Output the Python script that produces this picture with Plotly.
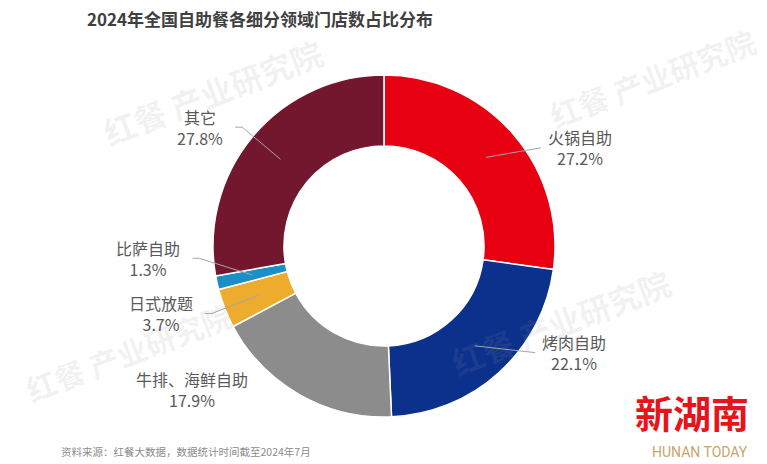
import math
import plotly.graph_objects as go

# ---------------- data ----------------
categories = ["火锅自助", "烤肉自助", "牛排、海鲜自助", "日式放题", "比萨自助", "其它"]
shares = [27.2, 22.1, 17.9, 3.7, 1.3, 27.8]
colors = ["#E60012", "#0B318C", "#8C8C8C", "#EDAC2D", "#1A8EC6", "#73172F"]

title_text = "2024年全国自助餐各细分领域门店数占比分布"
source_text = "资料来源：红餐大数据，数据统计时间截至2024年7月"

# ---------------- layout parameters ----------------
W, H = 767, 464
CX, CY, R = 384, 246, 171          # pie centre / outer radius in px
HOLE = 0.585
ANCHOR_R = 135                      # where leader lines start (mid ring)
ELBOW_R = 185                       # leader line elbow radius
label_shift_deg = [9, -12.5, 9.5, 0, 8.6, 0]    # label placement nudges
show_leader = [True, True, False, True, True, True]

FONT = "Noto Sans CJK SC, Noto Sans, sans-serif"
LABEL_COLOR = "#595959"
LINE_COLOR = "#A6A6A6"


def px2paper(x, y):
    return x / W, 1 - y / H


def seg(p, q):
    x0, y0 = px2paper(*p)
    x1, y1 = px2paper(*q)
    return dict(type="line", xref="paper", yref="paper", x0=x0, y0=y0, x1=x1, y1=y1,
                line=dict(color=LINE_COLOR, width=1))


fig = go.Figure()
fig.add_trace(go.Pie(
    labels=categories,
    values=shares,
    sort=False,
    direction="clockwise",
    rotation=0,
    hole=HOLE,
    marker=dict(colors=colors, line=dict(color="white", width=1.5)),
    textinfo="none",
    hoverinfo="label+percent",
    showlegend=False,
    domain=dict(x=[(CX - R) / W, (CX + R) / W], y=[1 - (CY + R) / H, 1 - (CY - R) / H]),
))

annotations = []
shapes = []

# faint watermarks (drawn first so labels sit on top)
wm_color = "rgba(150,150,150,0.12)"
for (wx, wy, ws) in [(212, 92, 32), (652, 78, 30), (128, 352, 30), (560, 322, 32)]:
    x, y = px2paper(wx, wy)
    annotations.append(dict(text="红餐 产业研究院", x=x, y=y, xref="paper", yref="paper",
                            xanchor="center", yanchor="middle", showarrow=False, textangle=-21,
                            font=dict(family=FONT, size=ws, color=wm_color, weight="bold")))

total = sum(shares)
cum = 0.0
for i, (cat, v) in enumerate(zip(categories, shares)):
    mid = (cum + v / 2) / total * 360.0
    cum += v
    a = math.radians(mid)
    anchor = (CX + ANCHOR_R * math.sin(a), CY - ANCHOR_R * math.cos(a))
    b = math.radians(mid + label_shift_deg[i])
    elbow = (CX + ELBOW_R * math.sin(b), CY - ELBOW_R * math.cos(b))
    right = math.sin(b) > 0
    txt = f"{cat}<br>{v:.1f}%"
    if right:
        if show_leader[i]:
            shapes.append(seg(anchor, elbow))
        tx, ty = px2paper(elbow[0] + 5, elbow[1])
        xanchor = "left"
    else:
        hend = (elbow[0] - 7, elbow[1])
        if show_leader[i]:
            shapes.append(seg(anchor, elbow))
            shapes.append(seg(elbow, hend))
        tx, ty = px2paper(hend[0] - 10, hend[1])
        xanchor = "right"
    annotations.append(dict(text=txt, x=tx, y=ty, xref="paper", yref="paper", xanchor=xanchor,
                            yanchor="middle", align="center", showarrow=False,
                            font=dict(family=FONT, size=16, color=LABEL_COLOR)))

# title
x, y = px2paper(260, 18)
annotations.append(dict(text=f"<b>{title_text}</b>", x=x, y=y, xref="paper", yref="paper",
                        xanchor="center", yanchor="middle", showarrow=False,
                        font=dict(family=FONT, size=17, color="#404040")))
# source
x, y = px2paper(59, 451)
annotations.append(dict(text=source_text, x=x, y=y, xref="paper", yref="paper",
                        xanchor="left", yanchor="middle", showarrow=False,
                        font=dict(family=FONT, size=10.5, color="#8C8C8C")))
# logo text
x, y = px2paper(692, 411)
annotations.append(dict(text="<b>新湖南</b>", x=x, y=y, xref="paper", yref="paper",
                        xanchor="center", yanchor="middle", showarrow=False,
                        font=dict(family=FONT, size=38, color="#E8141C")))
x, y = px2paper(700, 452)
annotations.append(dict(text="HUNAN TODAY", x=x, y=y, xref="paper", yref="paper",
                        xanchor="center", yanchor="middle", showarrow=False,
                        font=dict(family="Roboto, sans-serif", size=14, color="#C9A46C")))

fig.update_layout(
    width=W, height=H,
    margin=dict(l=0, r=0, t=0, b=0),
    paper_bgcolor="white",
    plot_bgcolor="white",
    annotations=annotations,
    shapes=shapes,
)

fig.write_html("out.html")
